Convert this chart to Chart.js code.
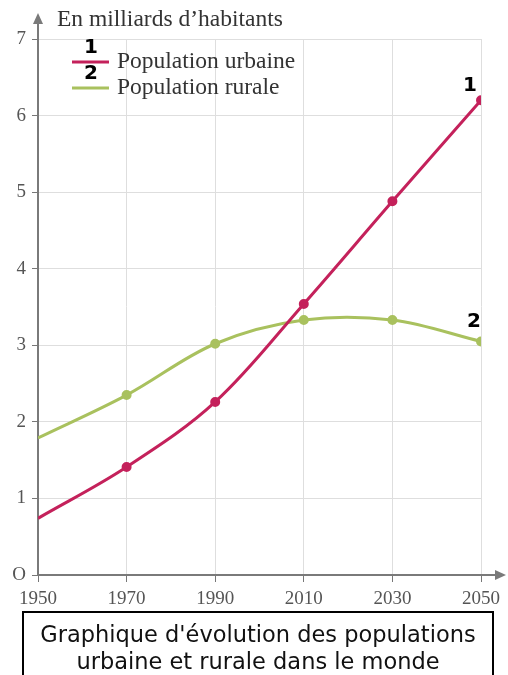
<!DOCTYPE html>
<html>
<head>
<meta charset="utf-8">
<script src="https://cdn.jsdelivr.net/npm/chart.js@4"></script>
<style>
  html, body { margin: 0; padding: 0; background: #fff; }
  body { width: 508px; height: 675px; position: relative; overflow: hidden; }
  #wrap { position: absolute; left: 0; top: 0; width: 508px; height: 612px; }
  #caption {
    position: absolute; left: 22px; top: 611px; width: 472px; height: 70px;
    border: 2px solid #000; box-sizing: border-box; text-align: center;
    font-family: "DejaVu Sans", sans-serif; font-size: 22.5px; line-height: 27px;
    color: #111; padding-top: 8px;
  }
</style>
</head>
<body>
<div id="wrap"><canvas id="chart" width="508" height="612"></canvas></div>
<div id="caption">Graphique d'évolution des populations<br>urbaine et rurale dans le monde</div>
<script>
const years = [1950, 1970, 1990, 2010, 2030, 2050];
const urbaine = [0.74, 1.41, 2.26, 3.54, 4.88, 6.2];
const rurale = [1.79, 2.35, 3.02, 3.33, 3.33, 3.05];
const seriesNames = ["Population urbaine", "Population rurale"];
const yTitle = "En milliards d’habitants";

const RED = "#c4215b";
const GREEN = "#a9c15e";
const SERIF = "'Liberation Serif', 'DejaVu Serif', serif";

// axes prolongés avec flèches, légende et numéros 1 / 2
const decor = {
  id: "decor",
  afterDraw(chart) {
    const ctx = chart.ctx;
    const a = chart.chartArea;
    const xs = chart.scales.x, ys = chart.scales.y;
    ctx.save();
    ctx.strokeStyle = "#7a7a7a";
    ctx.fillStyle = "#7a7a7a";
    ctx.lineWidth = 2;
    // axe y vers le haut
    ctx.beginPath();
    ctx.moveTo(a.left, a.top);
    ctx.lineTo(a.left, 22);
    ctx.stroke();
    ctx.beginPath();
    ctx.moveTo(a.left, 13);
    ctx.lineTo(a.left - 5, 24);
    ctx.lineTo(a.left + 5, 24);
    ctx.closePath();
    ctx.fill();
    // axe x vers la droite
    ctx.beginPath();
    ctx.moveTo(a.right, a.bottom);
    ctx.lineTo(497, a.bottom);
    ctx.stroke();
    ctx.beginPath();
    ctx.moveTo(506, a.bottom);
    ctx.lineTo(495, a.bottom - 5);
    ctx.lineTo(495, a.bottom + 5);
    ctx.closePath();
    ctx.fill();

    // titre de l'axe y
    ctx.fillStyle = "#333";
    ctx.font = "23.5px " + SERIF;
    ctx.textAlign = "left";
    ctx.textBaseline = "middle";
    ctx.fillText(yTitle, 57, 20);

    // légende
    const colors = [RED, GREEN];
    [62, 88].forEach((y, i) => {
      ctx.strokeStyle = colors[i];
      ctx.lineWidth = 3;
      ctx.beginPath();
      ctx.moveTo(72, y);
      ctx.lineTo(109, y);
      ctx.stroke();
      ctx.fillStyle = "#000";
      ctx.font = "bold 20px 'DejaVu Sans', sans-serif";
      ctx.textAlign = "center";
      ctx.fillText(String(i + 1), 91, y - 14);
      ctx.fillStyle = "#333";
      ctx.font = "23.5px " + SERIF;
      ctx.textAlign = "left";
      ctx.fillText(seriesNames[i], 117, y);
    });

    // numéros en bout de courbe
    ctx.fillStyle = "#000";
    ctx.font = "bold 20px 'DejaVu Sans', sans-serif";
    ctx.textAlign = "center";
    const last = years.length - 1;
    ctx.fillText("1", xs.getPixelForValue(years[last]) - 11, ys.getPixelForValue(urbaine[last]) - 14);
    ctx.fillText("2", xs.getPixelForValue(years[last]) - 7, ys.getPixelForValue(rurale[last]) - 20);
    ctx.restore();
  }
};

new Chart(document.getElementById("chart"), {
  type: "line",
  data: {
    datasets: [
      {
        label: seriesNames[0],
        data: years.map((y, i) => ({ x: y, y: urbaine[i] })),
        borderColor: RED,
        backgroundColor: RED,
        borderWidth: 3,
        pointRadius: [0, 3.5, 3.5, 3.5, 3.5, 3.5],
        tension: 0.35,
      },
      {
        label: seriesNames[1],
        data: years.map((y, i) => ({ x: y, y: rurale[i] })),
        borderColor: GREEN,
        backgroundColor: GREEN,
        borderWidth: 3,
        pointRadius: [0, 3.5, 3.5, 3.5, 3.5, 3.5],
        tension: 0.35,
      },
    ],
  },
  options: {
    responsive: false,
    animation: false,
    layout: { padding: { top: 39, right: 27, left: 0, bottom: 0 } },
    plugins: { legend: { display: false }, tooltip: { enabled: false } },
    scales: {
      x: {
        type: "linear",
        min: 1950,
        max: 2050,
        afterFit: s => { s.height = 37; },
        ticks: {
          stepSize: 20,
          color: "#555",
          font: { family: SERIF, size: 19 },
          padding: 6,
          callback: v => String(v),
        },
        grid: { color: "#dedede", tickColor: "#777", tickLength: 7 },
        border: { color: "#7a7a7a", width: 2 },
      },
      y: {
        min: 0,
        max: 7,
        afterFit: s => { s.width = 38; },
        ticks: {
          stepSize: 1,
          color: "#555",
          font: { family: SERIF, size: 19 },
          padding: 6,
          callback: v => (v === 0 ? "O" : String(v)),
        },
        grid: { color: "#dedede", tickColor: "#777", tickLength: 6 },
        border: { color: "#7a7a7a", width: 2 },
      },
    },
  },
  plugins: [decor],
});
</script>
</body>
</html>
